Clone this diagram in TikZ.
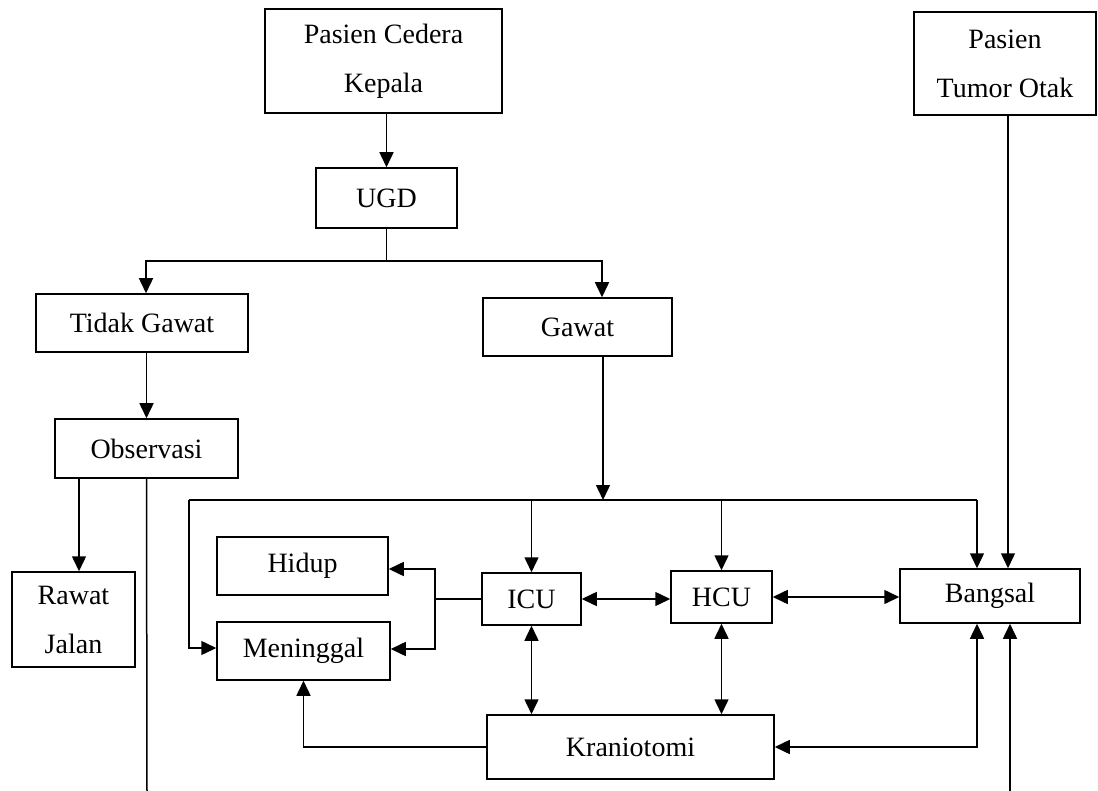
\documentclass[tikz,border=0pt]{standalone}
\usepackage{fontspec}
\setmainfont{Liberation Serif}
\usetikzlibrary{arrows.meta,calc}
\begin{document}
\begin{tikzpicture}[x=1pt,y=-1pt,
  box/.style={draw,line width=1.5pt,inner sep=0pt,align=center,font=\fontsize{28}{49}\selectfont},
  link/.style={line width=1.5pt},
  arr/.style={link,-{Triangle[length=15pt,width=14pt]}},
  darr/.style={link,{Triangle[length=15pt,width=14pt]}-{Triangle[length=15pt,width=14pt]}}]
\useasboundingbox (0,0) rectangle (1098,791);
% boxes
\node[box,minimum width=237pt,minimum height=104pt] (pck) at (383.5,61) {Pasien Cedera\\Kepala};
\node[box,minimum width=182pt,minimum height=103pt] (pto) at (1005,63.5) {Pasien\\Tumor Otak};
\node[box,minimum width=141pt,minimum height=60pt] (ugd) at (386.5,198) {UGD};
\node[box,minimum width=212pt,minimum height=58pt] (tg) at (142,323) {Tidak Gawat};
\node[box,minimum width=189pt,minimum height=58pt] (gw) at (577.5,327) {Gawat};
\node[box,minimum width=183pt,minimum height=59pt] (obs) at (146.5,448.5) {Observasi};
\node[box,minimum width=123pt,minimum height=95pt] (rj) at (73.5,619.5) {Rawat\\Jalan};
\node[box,minimum width=171pt,minimum height=58pt] (hid) at (302.5,566) {Hidup};
\node[box,minimum width=173pt,minimum height=58pt] (men) at (303.5,651) {Meninggal};
\node[box,minimum width=99pt,minimum height=52pt] (icu) at (531.5,599) {ICU};
\node[box,minimum width=101pt,minimum height=52pt] (hcu) at (721.5,597) {HCU};
\node[box,minimum width=180pt,minimum height=54pt] (ban) at (990,596) {Bangsal};
\node[box,minimum width=287pt,minimum height=64pt] (kra) at (630.5,747) {Kraniotomi};
% coordinates
\coordinate (br) at (386.5,261);
\coordinate (obsend) at (147,791);
\coordinate (busL) at (189,500);
\coordinate (busR) at (977,500);
\coordinate (gwbus) at (603,500);
\coordinate (sp) at (435,599);
\coordinate (tumbot) at (1010,791);
% connectors
\draw[arr] (pck.south -| ugd.north) -- (ugd.north);
\draw[link] (ugd.south) -- (br);
\draw[arr] (br) -| ([xshift=4pt]tg.north);
\draw[arr] (br) -| ([xshift=24.5pt]gw.north);
\draw[arr] (tg.south -| obs.north) -- (obs.north);
\draw[arr] ([xshift=5.5pt]rj.north |- obs.south) -- ([xshift=5.5pt]rj.north);
\draw[link] (obs.south) -- (obsend);
\draw[arr] ([xshift=25.5pt]gw.south) -- (gwbus);
\draw[link] (busL) -- (busR);
\draw[arr] (busL) |- ([yshift=3pt]men.west);
\draw[arr] (busL -| icu.north) -- (icu.north);
\draw[arr] (busL -| hcu.north) -- (hcu.north);
\draw[arr] (busR) -- (busR |- ban.north);
\draw[arr] ([xshift=3pt]pto.south) -- ([xshift=3pt]pto.south |- ban.north);
\draw[link] (icu.west) -- (sp);
\draw[arr] (sp) |- ([yshift=-3pt]hid.east);
\draw[arr] (sp) |- ([yshift=2pt]men.east);
\draw[darr] (icu.east) -- (icu.east -| hcu.west);
\draw[darr] (hcu.east) -- (hcu.east -| ban.west);
\draw[darr] (icu.south) -- (icu.south |- kra.north);
\draw[darr] (hcu.south) -- (hcu.south |- kra.north);
\draw[arr] (kra.west) -| (men.south);
\draw[darr] (kra.east) -| (busR |- ban.south);
\draw[arr] (tumbot) -- (tumbot |- ban.south);
\end{tikzpicture}
\end{document}
